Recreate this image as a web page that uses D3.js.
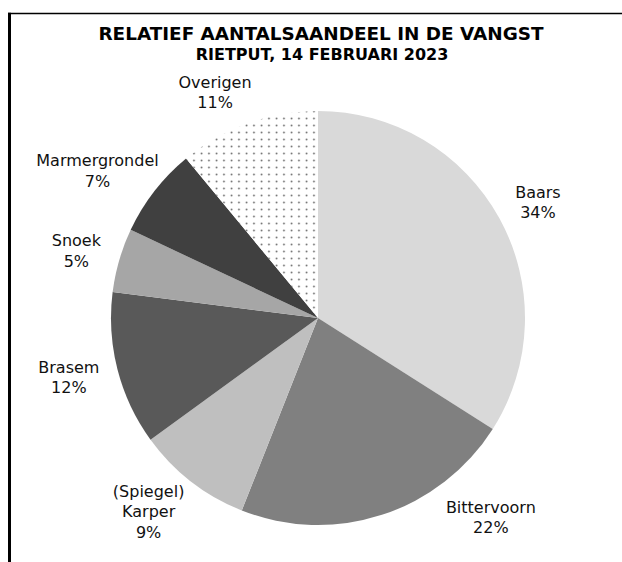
<!DOCTYPE html>
<html>
<head>
<meta charset="utf-8">
<script src="https://cdn.jsdelivr.net/npm/d3@7"></script>
<style>
	body { margin: 0; background: #fff; }
	svg { display: block; font-family: "DejaVu Sans", Verdana, sans-serif; }
</style>
</head>
<body>
<div id="chart"></div>
<script>

	var categories = ["Baars", "Bittervoorn", "(Spiegel)\nKarper", "Brasem", "Snoek", "Marmergrondel", "Overigen"];
	var shares = [34, 22, 9, 12, 5, 7, 11]; // percent of catch
	var titleLines = ["RELATIEF AANTALSAANDEEL IN DE VANGST", "RIETPUT, 14 FEBRUARI 2023"];

	var width = 622,
		height = 562;
	var cx = 318, cy = 318, radius = 207;

	var svg = d3.select("#chart").append("svg")
		.attr("width", width)
		.attr("height", height);

	// dotted fill for "Overigen"
	var pattern = svg.append("defs").append("pattern")
		.attr("id", "dots")
		.attr("patternUnits", "userSpaceOnUse")
		.attr("width", 7.5)
		.attr("height", 7);
	pattern.append("rect").attr("width", 7.5).attr("height", 7).attr("fill", "#fff");
	pattern.append("circle").attr("cx", 3.5).attr("cy", 3.5).attr("r", 0.9).attr("fill", "#6a6a6a");

	var color = d3.scaleOrdinal()
		.domain(categories)
		.range(["#d9d9d9", "#808080", "#bfbfbf", "#595959", "#a6a6a6", "#404040", "url(#dots)"]);

	// frame (only top and left edges show in the picture)
	svg.append("line")
		.attr("x1", 8).attr("x2", 622).attr("y1", 13.5).attr("y2", 13.5)
		.attr("stroke", "#000").attr("stroke-width", 1.6);
	svg.append("line")
		.attr("x1", 9.5).attr("x2", 9.5).attr("y1", 12.7).attr("y2", height)
		.attr("stroke", "#000").attr("stroke-width", 3);

	// title
	svg.append("text")
		.attr("x", 321).attr("y", 40)
		.attr("text-anchor", "middle")
		.attr("font-weight", "bold")
		.attr("font-size", 18.4)
		.text(titleLines[0]);
	svg.append("text")
		.attr("x", 322).attr("y", 60)
		.attr("text-anchor", "middle")
		.attr("font-weight", "bold")
		.attr("font-size", 16)
		.text(titleLines[1]);

	var pie = d3.pie().sort(null).value(function(d) { return d; });
	var arcs = pie(shares);
	var arc = d3.arc().innerRadius(0).outerRadius(radius);

	var g = svg.append("g").attr("transform", "translate(" + cx + "," + cy + ")");

	g.selectAll(".slice")
		.data(arcs)
		.enter()
		.append("path")
		.attr("class", "slice")
		.attr("d", arc)
		.attr("fill", function(d, i) { return color(categories[i]); });

	// labels: outside end, pushed away from the pie along the mid angle
	var fontSize = 16, lineH = 20.5, gap = 226;
	var bottomLimit = 545, bottomTarget = 538;
	var labels = g.selectAll(".label")
		.data(arcs)
		.enter()
		.append("text")
		.attr("class", "label")
		.attr("text-anchor", "middle")
		.attr("font-size", fontSize)
		.attr("fill", "#111");

	labels.each(function(d, i) {
		var lines = categories[i].split("\n").concat([shares[i] + "%"]);
		var t = d3.select(this);
		lines.forEach(function(s) {
			t.append("tspan").attr("x", 0).text(s);
		});
		var w = Math.min(this.getBBox().width, 90);
		var h = lines.length * lineH;
		var a = (d.startAngle + d.endAngle) / 2;
		var s = Math.sin(a), side = s >= 0 ? 1 : -1;
		var p = {
			x: gap * s + side * (w / 2) * Math.pow(Math.abs(s), 0.3),
			y: -(gap + 1 + h * 0.3) * Math.cos(a)
		};
		// box would fall below the chart area: lift it and slide it sideways
		// until its inner corner clears the pie
		if (cy + p.y + h / 2 > bottomLimit) {
			p.y = bottomTarget - cy - h / 2;
			var top = p.y - h / 2;
			var dx = Math.sqrt(Math.max(0, 220 * 220 - top * top));
			p.x = side * (dx + w / 2);
		}
		t.selectAll("tspan")
			.attr("x", p.x)
			.attr("y", function(s, j) { return p.y - h / 2 + (j + 1) * lineH - 5; });
	});

</script>
</body>
</html>
